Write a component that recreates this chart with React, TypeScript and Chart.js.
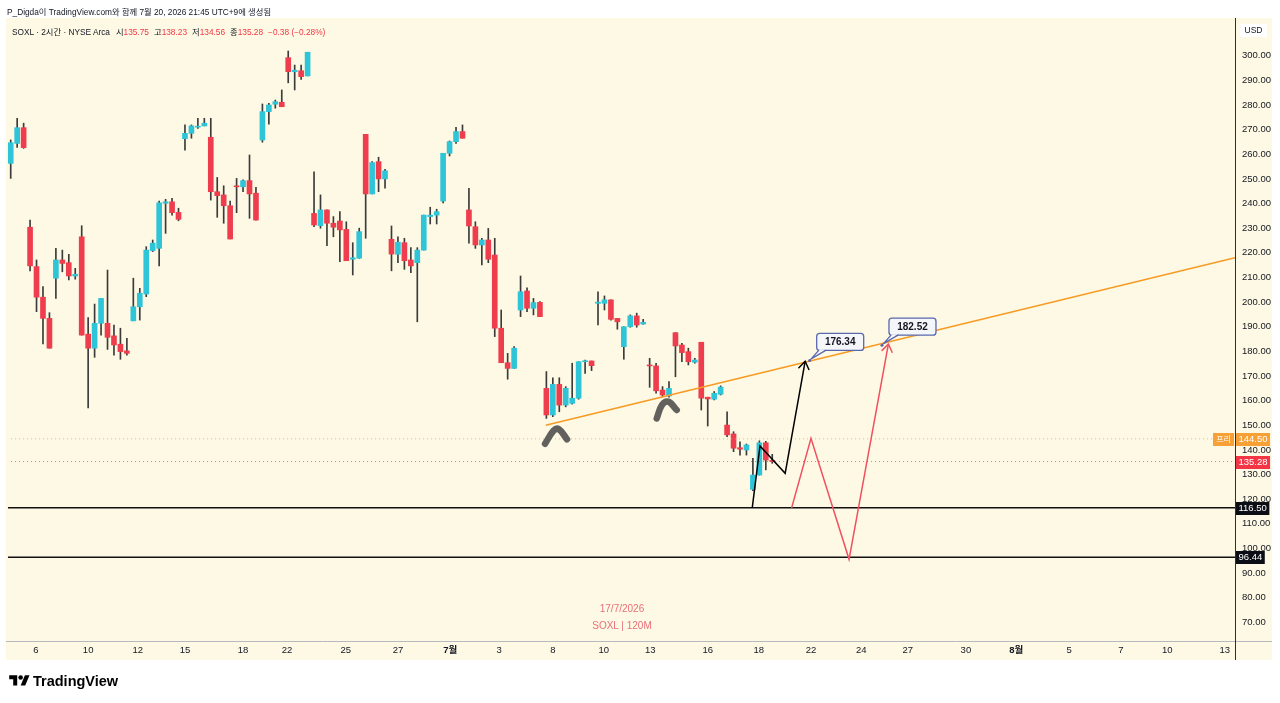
import React, { useEffect, useRef } from "react";
import { Chart, registerables } from "chart.js";

Chart.register(...registerables);

const FONT = "'Liberation Sans', 'Noto Sans CJK KR', Arial, sans-serif";
const BG = "#fdf9e4";
const UP = "#2ec5d8";
const DOWN = "#ef3d4e";
const WICK = "#3b3b3b";

// ---- candle data (2h bars) ----
const opens = [256.3,264.4,270.8,230.4,214.4,202.0,193.4,209.7,217.1,216.0,
  210.6,226.5,187.0,181.3,191.4,191.4,186.3,182.9,180.2,192.4,
  198.1,203.3,220.9,221.8,240.1,240.7,236.4,266.3,268.5,271.0,
  271.5,266.9,244.8,243.5,239.1,247.2,246.8,249.3,244.2,265.8,
  277.3,280.3,281.1,299.2,293.5,293.9,291.8,236.0,231.0,237.4,
  232.0,232.9,229.5,217.4,217.8,268.1,243.9,257.0,250.0,225.5,
  219.4,224.1,217.1,216.0,221.1,234.7,235.3,241.0,260.4,265.1,
  269.2,237.4,230.6,223.2,225.2,219.1,189.4,175.4,173.1,196.8,
  204.5,197.5,199.9,165.0,154.2,166.6,158.2,158.9,161.0,175.8,
  176.1,199.5,199.5,200.9,193.4,181.9,190.0,194.4,191.1,174.4,
  174.1,164.3,161.9,187.6,182.6,179.9,175.6,183.7,161.4,160.6,
  162.6,150.1,146.5,140.9,140.0,124.0,129.8,142.9,135.75];
const highs = [265.8,274.6,272.6,233.3,217.1,206.3,195.7,221.8,221.1,219.4,
  213.7,231.0,193.7,199.2,201.5,213.0,190.7,189.4,185.3,209.7,
  205.6,222.5,225.2,241.0,241.7,242.1,238.1,271.9,271.9,274.6,
  274.6,274.6,250.6,247.2,241.0,250.2,249.6,259.7,246.6,280.4,
  280.7,282.0,286.1,301.9,296.2,296.2,301.4,252.9,243.5,237.4,
  234.7,236.7,232.6,224.1,230.0,268.1,257.0,258.8,253.9,230.9,
  226.5,225.9,222.1,222.1,235.3,238.5,237.7,260.4,265.4,270.9,
  271.9,246.2,232.6,225.9,229.9,225.9,196.8,179.2,181.9,210.6,
  205.8,201.5,200.2,171.8,169.3,169.3,165.7,175.2,175.8,176.5,
  176.1,204.2,202.5,200.9,193.4,190.0,194.8,195.5,193.0,177.2,
  175.2,165.7,167.7,187.6,183.3,181.3,177.2,183.7,161.4,163.7,
  166.0,155.5,147.4,143.3,142.4,136.6,143.7,143.5,138.23];
const lows = [250.2,262.8,262.4,212.7,196.1,183.0,181.3,201.5,212.3,209.0,
  209.3,186.6,157.1,177.6,186.6,180.8,178.5,176.8,178.5,192.4,
  192.7,202.2,220.5,214.7,227.9,235.3,233.0,261.7,266.5,270.5,
  271.5,241.4,234.4,232.0,225.6,236.3,244.8,234.0,233.3,264.9,
  272.2,278.7,279.3,289.0,286.1,290.4,291.8,230.6,230.0,222.9,
  226.5,216.4,216.8,211.0,217.8,225.9,243.9,244.8,246.2,212.7,
  216.0,213.3,211.9,192.0,221.1,231.7,231.7,240.3,259.3,264.4,
  266.5,223.9,221.8,215.1,216.0,186.0,175.4,168.7,173.1,194.1,
  196.1,194.8,194.1,152.8,153.5,155.5,157.5,158.6,160.6,171.1,
  172.2,190.7,196.8,192.7,189.0,176.8,189.8,189.8,191.0,165.4,
  163.0,161.6,161.4,169.7,175.8,174.5,175.2,156.2,149.7,160.3,
  162.3,145.4,139.3,137.9,137.9,123.5,129.8,131.9,134.56];
const closes = [264.7,270.8,262.7,214.7,202.0,193.4,181.3,217.1,215.7,210.6,
  211.3,186.6,181.3,191.4,201.5,185.7,182.6,179.9,179.2,198.1,
  203.6,221.1,223.9,240.3,240.7,236.3,233.6,268.5,271.5,271.2,
  272.6,244.8,243.2,239.1,225.6,246.8,249.3,243.9,233.3,277.3,
  280.0,281.3,279.3,293.5,294.1,291.5,301.4,231.3,237.4,232.0,
  230.4,229.3,216.8,218.0,228.6,243.9,256.6,250.0,253.3,219.5,
  224.3,216.8,214.7,221.1,235.3,235.3,236.7,260.4,265.1,269.2,
  266.5,230.9,223.2,225.2,217.4,189.4,175.4,173.1,181.3,204.2,
  197.5,199.8,194.1,154.2,166.6,158.2,165.0,161.0,175.8,176.2,
  174.2,200.0,200.9,193.0,192.0,190.0,194.4,190.7,191.8,174.1,
  164.0,162.3,165.0,182.2,179.5,175.8,176.5,161.0,160.7,163.0,
  165.5,146.1,140.7,140.3,142.0,129.8,142.9,135.9,135.28];

// ---- axes ----
const xTickIndex = [3.9, 12.0, 19.7, 27.0, 36.0, 42.8, 51.9, 60.0, 68.1, 75.7, 84.0, 91.9,
  99.1, 108.0, 115.9, 124.0, 131.8, 139.0, 148.0, 155.8, 164.0, 172.0, 179.2, 188.1];
const xTickLabels = ["6", "10", "12", "15", "18", "22", "25", "27", "7월", "3", "8", "10",
  "13", "16", "18", "22", "24", "27", "30", "8월", "5", "7", "10", "13"];
const yTicks = [70, 80, 90, 100, 110, 120, 130, 140, 150, 160, 170, 180, 190, 200, 210, 220,
  230, 240, 250, 260, 270, 280, 290, 300];
const X_MIN = -0.42, X_MAX = 189.7, Y_MIN = 62.46, Y_MAX = 315.3;

// ---- drawings ----
const trendX = [82.9, 189.7];
const trendY = [150.0, 218.0];
const blackPathX = [114.9, 116.1, 120.0, 123.1];
const blackPathY = [116.5, 141.6, 130.5, 176.0];
const redPathX = [121.0, 124.0, 129.9, 136.0];
const redPathY = [116.5, 144.7, 95.6, 183.0];
const brush1X = [82.8, 84.1, 84.9, 86.2];
const brush1Y = [142.5, 147.8, 148.5, 144.3];
const brush2X = [100.1, 100.9, 101.9, 103.2];
const brush2Y = [152.8, 158.2, 159.6, 156.2];
const levelValues = [116.5, 96.44];
const prePrice = 144.5;
const lastPrice = 135.28;
const calloutX = [123.8, 135.0];
const calloutY = [176.34, 182.52];
const calloutText = ["176.34", "182.52"];

const pts = (xs: number[], ys: number[]) => xs.map((x, i) => ({ x, y: ys[i] }));
const hline = (v: number) => [{ x: X_MIN - 2, y: v }, { x: X_MAX + 2, y: v }];

const framePlugin = {
  id: "frame",
  beforeDraw(chart: any) {
    const { ctx, width, height, chartArea: ca } = chart;
    ctx.save();
    ctx.fillStyle = "#ffffff";
    ctx.fillRect(0, 0, width, height);
    ctx.fillStyle = BG;
    ctx.fillRect(ca.left - 2, ca.top, ca.right - ca.left + 39, ca.bottom - ca.top + 19);
    ctx.restore();
  },
  afterDraw(chart: any) {
    const { ctx, chartArea: ca } = chart;
    const xs = chart.scales.x;
    const ys = chart.scales.y;
    ctx.save();
    // axis separators
    ctx.lineWidth = 1;
    ctx.strokeStyle = "#b7b9bf";
    ctx.beginPath();
    ctx.moveTo(ca.left - 2, ca.bottom + 0.5);
    ctx.lineTo(ca.right + 37, ca.bottom + 0.5);
    ctx.stroke();
    ctx.strokeStyle = "#2a2e39";
    ctx.beginPath();
    ctx.moveTo(ca.right + 0.5, ca.top);
    ctx.lineTo(ca.right + 0.5, ca.bottom + 19);
    ctx.stroke();

    // arrow heads
    const heads = [
      { px: blackPathX, py: blackPathY, c: "#000000" },
      { px: redPathX, py: redPathY, c: "#f0505f" },
    ];
    heads.forEach((h) => {
      const n = h.px.length;
      const x1 = xs.getPixelForValue(h.px[n - 2]);
      const y1 = ys.getPixelForValue(h.py[n - 2]);
      const x2 = xs.getPixelForValue(h.px[n - 1]);
      const y2 = ys.getPixelForValue(h.py[n - 1]);
      const a = Math.atan2(y1 - y2, x1 - x2);
      const L = 9, th = 0.6;
      ctx.strokeStyle = h.c;
      ctx.lineWidth = 1.5;
      ctx.lineCap = "round";
      ctx.beginPath();
      ctx.moveTo(x2 + L * Math.cos(a - th), y2 + L * Math.sin(a - th));
      ctx.lineTo(x2, y2);
      ctx.lineTo(x2 + L * Math.cos(a + th), y2 + L * Math.sin(a + th));
      ctx.stroke();
    });

    // callouts
    calloutX.forEach((xv, i) => {
      const ax = xs.getPixelForValue(xv);
      const ay = ys.getPixelForValue(calloutY[i]);
      const bw = 47, bh = 17;
      const bx = ax + 7, by = ay - 10 - bh;
      ctx.fillStyle = "#f5f6fa";
      ctx.strokeStyle = "#5b68ad";
      ctx.lineWidth = 1.3;
      ctx.beginPath();
      (ctx as any).roundRect(bx, by, bw, bh, 3);
      ctx.fill();
      ctx.stroke();
      ctx.beginPath();
      ctx.moveTo(bx + 2, by + bh - 1);
      ctx.lineTo(ax + 1.5, ay - 1.5);
      ctx.lineTo(bx + 9, by + bh - 1);
      ctx.closePath();
      ctx.fill();
      ctx.beginPath();
      ctx.moveTo(bx + 2, by + bh);
      ctx.lineTo(ax + 1.5, ay - 1.5);
      ctx.lineTo(bx + 9, by + bh);
      ctx.stroke();
      ctx.fillStyle = "#5b68ad";
      ctx.beginPath();
      ctx.arc(ax, ay, 1.5, 0, Math.PI * 2);
      ctx.fill();
      ctx.fillStyle = "#131722";
      ctx.font = `bold 10px ${FONT}`;
      ctx.textAlign = "center";
      ctx.textBaseline = "middle";
      ctx.fillText(calloutText[i], bx + bw / 2, by + bh / 2 + 0.5);
    });

    // price tags on the axis
    const tags = [
      { v: prePrice, bg: "#f7a035" },
      { v: lastPrice, bg: "#f23645" },
      { v: levelValues[0], bg: "#0c0e15" },
      { v: levelValues[1], bg: "#0c0e15" },
    ];
    ctx.font = `9.5px ${FONT}`;
    ctx.textAlign = "left";
    ctx.textBaseline = "middle";
    tags.forEach((t) => {
      const y = ys.getPixelForValue(t.v);
      const txt = t.v.toFixed(2);
      const w = ctx.measureText(txt).width + 5;
      ctx.fillStyle = t.bg;
      ctx.fillRect(ca.right + 1, Math.round(y) - 6, w, 13);
      ctx.fillStyle = "#ffffff";
      ctx.fillText(txt, ca.right + 3.5, Math.round(y) + 0.5);
    });
    // pre-market tag
    const py = Math.round(ys.getPixelForValue(prePrice));
    ctx.fillStyle = "#f7a035";
    ctx.fillRect(ca.right - 22, py - 6, 21, 13);
    ctx.fillStyle = "#ffffff";
    ctx.font = `8px ${FONT}`;
    ctx.textAlign = "center";
    ctx.fillText("프리", ca.right - 11.5, py + 0.5);

    // USD box
    ctx.fillStyle = "#ffffff";
    ctx.fillRect(ca.right + 5, ca.top + 6, 27, 13);
    ctx.fillStyle = "#131722";
    ctx.font = `8.5px ${FONT}`;
    ctx.fillText("USD", ca.right + 18.5, ca.top + 13);
    ctx.restore();
  },
};

export default function App() {
  const ref = useRef<HTMLCanvasElement>(null);

  useEffect(() => {
    const canvas = ref.current!;
    const idx = opens.map((_, i) => i);
    const colors = idx.map((i) => (closes[i] >= opens[i] ? UP : DOWN));
    const lineBase = { type: "line", pointRadius: 0, tension: 0, fill: false };

    const chart = new Chart(canvas, {
      type: "bar",
      data: {
        datasets: [
          { ...lineBase, label: "black", data: pts(blackPathX, blackPathY), borderColor: "#000000", borderWidth: 1.5, order: 0 } as any,
          { ...lineBase, label: "red", data: pts(redPathX, redPathY), borderColor: "#f0505f", borderWidth: 1.5, order: 0 } as any,
          { ...lineBase, label: "trend", data: pts(trendX, trendY), borderColor: "#f89a22", borderWidth: 1.6, order: 1 } as any,
          { ...lineBase, label: "brush1", data: pts(brush1X, brush1Y), borderColor: "rgba(70,70,70,0.85)", borderWidth: 6.5, borderCapStyle: "round", borderJoinStyle: "round", tension: 0.4, order: 1 } as any,
          { ...lineBase, label: "brush2", data: pts(brush2X, brush2Y), borderColor: "rgba(70,70,70,0.85)", borderWidth: 6.5, borderCapStyle: "round", borderJoinStyle: "round", tension: 0.4, order: 1 } as any,
          { ...lineBase, label: "lvl1", data: hline(levelValues[0]), borderColor: "#111111", borderWidth: 1.5, order: 2 } as any,
          { ...lineBase, label: "lvl2", data: hline(levelValues[1]), borderColor: "#111111", borderWidth: 1.5, order: 2 } as any,
          { ...lineBase, label: "pre", data: hline(prePrice), borderColor: "rgba(245,150,60,0.75)", borderWidth: 1, borderDash: [1, 3], order: 3 } as any,
          { ...lineBase, label: "last", data: hline(lastPrice), borderColor: "rgba(242,54,69,0.7)", borderWidth: 1, borderDash: [1, 3], order: 3 } as any,
          {
            type: "bar", label: "body",
            data: idx.map((i) => ({ x: i, y: [opens[i], closes[i]] })),
            backgroundColor: colors, borderWidth: 0,
            barThickness: 5, maxBarThickness: 5, minBarLength: 1, grouped: false, order: 5,
          } as any,
          {
            type: "bar", label: "wick",
            data: idx.map((i) => ({ x: i, y: [lows[i], highs[i]] })),
            backgroundColor: WICK, borderWidth: 0,
            barThickness: 1, maxBarThickness: 1, grouped: false, order: 6,
          } as any,
        ],
      },
      options: {
        animation: false,
        responsive: false,
        maintainAspectRatio: false,
        events: [],
        layout: { padding: { left: 8, top: 18, right: 8, bottom: 43 } },
        plugins: { legend: { display: false }, tooltip: { enabled: false }, title: { display: false } },
        scales: {
          x: {
            type: "linear", min: X_MIN, max: X_MAX, offset: false,
            grid: { display: false, drawTicks: false }, border: { display: false },
            afterBuildTicks: (s: any) => { s.ticks = xTickIndex.map((v) => ({ value: v })); },
            afterFit: (s: any) => { s.height = 19; s.paddingLeft = 0; s.paddingRight = 0; },
            ticks: {
              autoSkip: false, maxRotation: 0, minRotation: 0, padding: 4, color: "#131722",
              font: (c: any) => ({ family: FONT, size: 9.5, weight: (xTickLabels[c.index] || "").includes("월") ? "bold" : "normal" }),
              callback: (_v: any, i: number) => xTickLabels[i],
            },
          },
          y: {
            type: "linear", position: "right", min: Y_MIN, max: Y_MAX, beginAtZero: false,
            grid: { display: false, drawTicks: false }, border: { display: false },
            afterBuildTicks: (s: any) => { s.ticks = yTicks.map((v) => ({ value: v })); },
            afterFit: (s: any) => { s.width = 37; s.paddingTop = 0; s.paddingBottom = 0; },
            ticks: {
              padding: 7, color: "#131722", font: { family: FONT, size: 9.5 },
              callback: (v: any) => Number(v).toFixed(2),
            },
          },
        },
      } as any,
      plugins: [framePlugin],
    });
    return () => chart.destroy();
  }, []);

  const abs: React.CSSProperties = { position: "absolute", whiteSpace: "nowrap", pointerEvents: "none" };
  const red = { color: "#f23645" };
  return (
    <div style={{ position: "fixed", left: 0, top: 0, width: 1280, height: 703, background: "#fff", fontFamily: FONT }}>
      <canvas ref={ref} width={1280} height={703} style={{ display: "block", width: 1280, height: 703 }} />
      <div style={{ ...abs, left: 7, top: 5, fontSize: 8.3, color: "#131722" }}>
        P_Digda이 TradingView.com와 함께 7월 20, 2026 21:45 UTC+9에 생성됨
      </div>
      <div style={{ ...abs, left: 12, top: 25, fontSize: 8.3, color: "#131722" }}>
        <span>SOXL · 2시간 · NYSE Arca</span>
        <span style={{ marginLeft: 6 }}>시</span><span style={red}>135.75</span>
        <span style={{ marginLeft: 5 }}>고</span><span style={red}>138.23</span>
        <span style={{ marginLeft: 5 }}>저</span><span style={red}>134.56</span>
        <span style={{ marginLeft: 5 }}>종</span><span style={red}>135.28</span>
        <span style={{ ...red, marginLeft: 5 }}>−0.38 (−0.28%)</span>
      </div>
      <div style={{ ...abs, left: 572, width: 100, top: 603, textAlign: "center", fontSize: 10, color: "#e8707a" }}>17/7/2026</div>
      <div style={{ ...abs, left: 572, width: 100, top: 620, textAlign: "center", fontSize: 10, color: "#e8707a" }}>SOXL | 120M</div>
      <svg style={{ ...abs, left: 9, top: 673 }} width={21} height={16} viewBox="0 0 36 28">
        <path d="M14 22H7V11H0V4h14v18zM28 22h-8l7.5-18h8L28 22z" fill="#000" />
        <circle cx="20" cy="8" r="4" fill="#000" />
      </svg>
      <div style={{ ...abs, left: 33, top: 673, fontSize: 14.5, fontWeight: "bold", color: "#000" }}>TradingView</div>
    </div>
  );
}
